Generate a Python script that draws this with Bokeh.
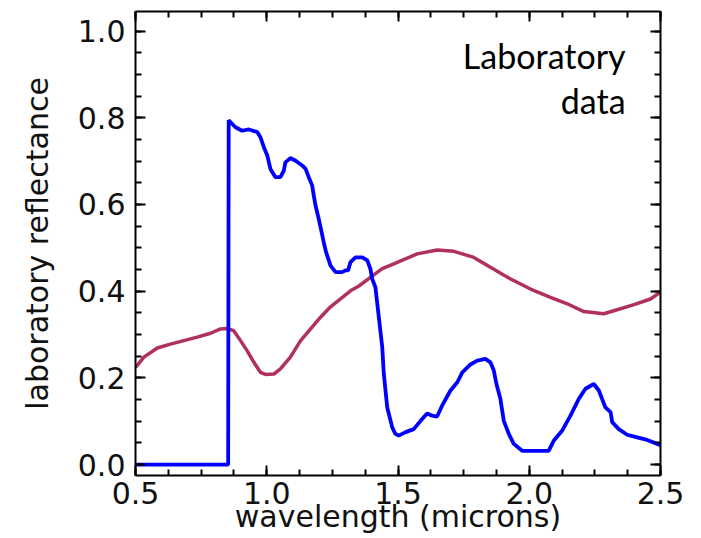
from bokeh.plotting import figure
from bokeh.models import (Range1d, LinearAxis, SingleIntervalTicker, PrintfTickFormatter, Label)
from bokeh.embed import file_html
from bokeh.resources import INLINE

# ---- data ----
blue_wl = [0.50, 0.853, 0.855, 0.881, 0.906, 0.932, 0.964, 0.976, 0.989, 1.002,
           1.014, 1.033, 1.052, 1.065, 1.071, 1.090, 1.110, 1.135, 1.148, 1.160,
           1.173, 1.179, 1.186, 1.198, 1.209, 1.217, 1.226, 1.243, 1.262, 1.287,
           1.300, 1.310, 1.319, 1.338, 1.364, 1.383, 1.395, 1.402, 1.414, 1.427,
           1.440, 1.446, 1.459, 1.478, 1.490, 1.503, 1.529, 1.560, 1.586, 1.611,
           1.630, 1.649, 1.668, 1.700, 1.726, 1.745, 1.776, 1.802, 1.833, 1.852,
           1.865, 1.875, 1.890, 1.903, 1.922, 1.941, 1.973, 2.074, 2.093, 2.125,
           2.157, 2.189, 2.214, 2.246, 2.265, 2.290, 2.310, 2.316, 2.341, 2.373,
           2.411, 2.449, 2.500]
blue_refl = [0.0, 0.0, 0.794, 0.778, 0.770, 0.773, 0.767, 0.755, 0.732, 0.713,
             0.682, 0.663, 0.663, 0.678, 0.697, 0.707, 0.701, 0.690, 0.682, 0.663,
             0.644, 0.621, 0.597, 0.567, 0.536, 0.513, 0.490, 0.459, 0.444, 0.444,
             0.448, 0.448, 0.467, 0.478, 0.478, 0.471, 0.451, 0.428, 0.409, 0.340,
             0.271, 0.209, 0.132, 0.086, 0.071, 0.067, 0.075, 0.082, 0.101, 0.118,
             0.113, 0.111, 0.136, 0.171, 0.190, 0.213, 0.231, 0.240, 0.244, 0.236,
             0.217, 0.186, 0.152, 0.101, 0.071, 0.048, 0.032, 0.032, 0.055, 0.078,
             0.113, 0.152, 0.175, 0.186, 0.171, 0.132, 0.121, 0.098, 0.082, 0.069,
             0.063, 0.057, 0.045]

red_wl = [0.50, 0.532, 0.583, 0.633, 0.684, 0.735, 0.786, 0.824, 0.849, 0.874,
          0.900, 0.925, 0.951, 0.976, 0.995, 1.027, 1.052, 1.090, 1.129, 1.167,
          1.205, 1.243, 1.319, 1.351, 1.395, 1.440, 1.484, 1.573, 1.649, 1.713,
          1.789, 1.852, 1.929, 2.005, 2.081, 2.145, 2.208, 2.284, 2.322, 2.399,
          2.462, 2.500]
red_refl = [0.224, 0.248, 0.269, 0.278, 0.286, 0.294, 0.303, 0.313, 0.314, 0.309,
            0.286, 0.263, 0.236, 0.213, 0.208, 0.209, 0.221, 0.248, 0.286, 0.313,
            0.340, 0.364, 0.401, 0.412, 0.432, 0.452, 0.463, 0.486, 0.495, 0.492,
            0.478, 0.455, 0.428, 0.405, 0.386, 0.371, 0.353, 0.348, 0.355, 0.369,
            0.382, 0.398]

x_label = "wavelength (microns)"
y_label = "laboratory reflectance"
note_lines = ["Laboratory", "data"]

FONT = "DejaVu Sans"

p = figure(frame_width=525, frame_height=464, output_backend="svg",
           toolbar_location=None,
           x_range=Range1d(0.5, 2.5), y_range=Range1d(-0.025, 1.045),
           x_axis_location=None, y_axis_location=None,
           min_border_left=135, min_border_top=11, min_border_right=36,
           min_border_bottom=50)
p.xgrid.visible = False
p.ygrid.visible = False
p.outline_line_color = None
p.background_fill_color = "white"
p.border_fill_color = "white"


def style_axis(ax, labels=True):
    ax.axis_line_width = 2
    ax.axis_line_color = "black"
    ax.major_tick_in = 10
    ax.major_tick_out = 0
    ax.minor_tick_in = 6
    ax.minor_tick_out = 0
    ax.major_tick_line_width = 2
    ax.minor_tick_line_width = 2
    ax.major_tick_line_color = "black"
    ax.minor_tick_line_color = "black"
    if labels:
        ax.major_label_text_font = FONT
        ax.major_label_text_font_size = "30px"
        ax.major_label_text_color = "#111111"
        ax.axis_label_text_font = FONT
        ax.axis_label_text_font_size = "30px"
        ax.axis_label_text_font_style = "normal"
        ax.axis_label_text_color = "#111111"
    else:
        ax.major_label_text_font_size = "0px"
        ax.major_label_standoff = 0
        ax.major_label_text_color = None


xt = SingleIntervalTicker(interval=0.5, num_minor_ticks=4)
yt = SingleIntervalTicker(interval=0.2, num_minor_ticks=4)
fmt = PrintfTickFormatter(format="%.1f")

xb = LinearAxis(ticker=xt, formatter=fmt, axis_label=x_label)
style_axis(xb)
xb.major_label_standoff = 6
xb.axis_label_standoff = -8
p.add_layout(xb, "below")

yl = LinearAxis(ticker=yt, formatter=fmt, axis_label=y_label)
style_axis(yl)
yl.major_label_standoff = 10
yl.axis_label_standoff = 20
p.add_layout(yl, "left")

xa = LinearAxis(ticker=xt)
style_axis(xa, labels=False)
p.add_layout(xa, "above")

yr = LinearAxis(ticker=yt)
style_axis(yr, labels=False)
p.add_layout(yr, "right")

p.line(red_wl, red_refl, line_color="#B03060", line_width=3.5)
p.line(blue_wl, blue_refl, line_color="#0000FF", line_width=3.8)

note_x = 2.367
note_y = [0.944, 0.840]
for t, yy in zip(note_lines, note_y):
    p.add_layout(Label(x=note_x, y=yy, text=t, text_align="right",
                       text_baseline="alphabetic", text_font="Lato",
                       text_font_size="34px", text_color="black"))

open("out.html", "w").write(file_html(p, INLINE))
